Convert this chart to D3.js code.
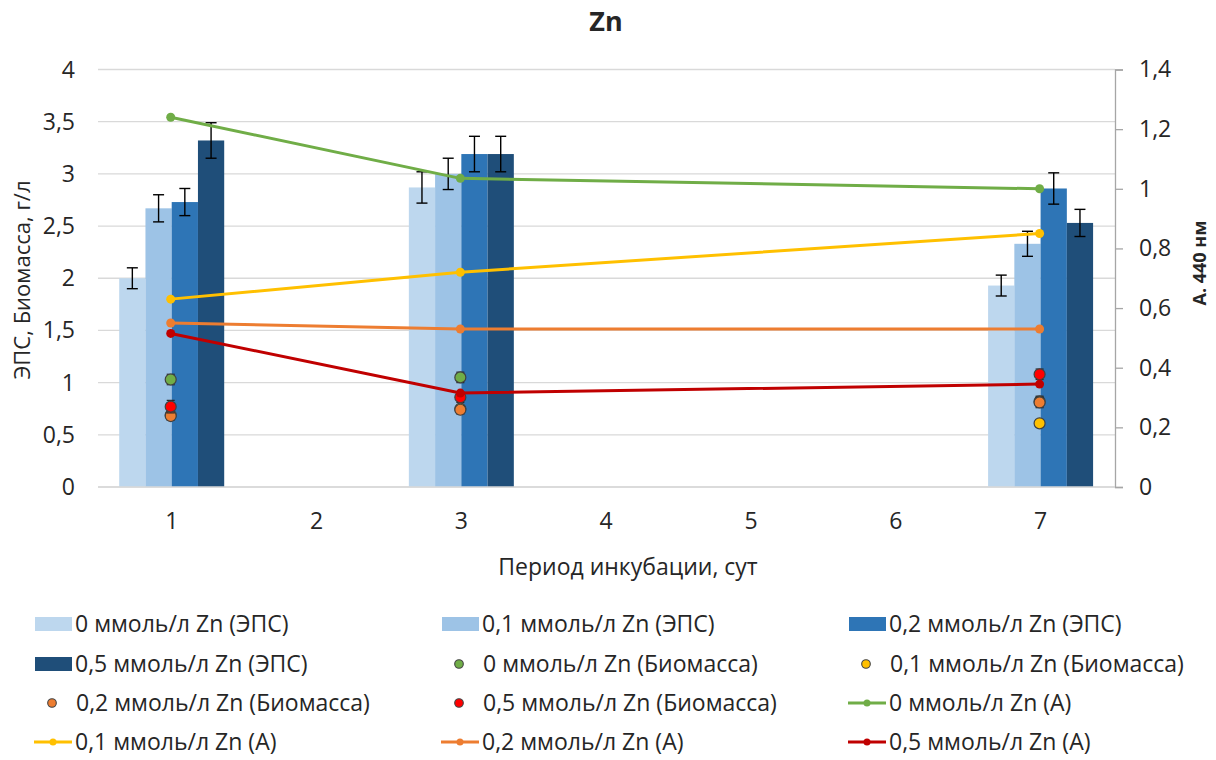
<!DOCTYPE html>
<html><head><meta charset="utf-8">
<script src="https://cdn.jsdelivr.net/npm/d3@7"></script>
<style>
html,body{margin:0;padding:0;background:#fff;}
text{font-family:"Open Sans","Noto Sans",sans-serif;fill:#262626;}
</style></head>
<body><svg id="c" width="1216" height="760"></svg>
<script>
// ---- data ----
const days = ["1","2","3","4","5","6","7"];
const sampleDays = ["1","3","7"];
const concLabels = ["0","0,1","0,2","0,5"];
// EPS bars, g/l (left axis)
const eps0 = [2.00, 2.87, 1.93];
const eps01 = [2.67, 3.00, 2.33];
const eps02 = [2.73, 3.19, 2.86];
const eps05 = [3.32, 3.19, 2.53];
const epsErr0 = [0.10, 0.15, 0.10];
const epsErr01 = [0.13, 0.15, 0.12];
const epsErr02 = [0.13, 0.17, 0.15];
const epsErr05 = [0.17, 0.17, 0.13];
// Biomass, g/l (left axis)
const bio0 = [1.03, 1.05, 0.82];
const bio01 = [0.69, 0.75, 0.61];
const bio02 = [0.68, 0.74, 0.81];
const bio05 = [0.77, 0.86, 1.08];
const bioErr0 = [0.05, 0.05, 0.05];
const bioErr01 = [0.03, 0.03, 0.03];
const bioErr02 = [0.04, 0.04, 0.05];
const bioErr05 = [0.06, 0.05, 0.05];
// Absorbance 440 nm (right axis)
const a0 = [1.24, 1.035, 1.00];
const a01 = [0.63, 0.72, 0.85];
const a02 = [0.55, 0.53, 0.53];
const a05 = [0.515, 0.315, 0.345];
const leftTicks = [0,0.5,1,1.5,2,2.5,3,3.5,4];
const rightTicks = [0,0.2,0.4,0.6,0.8,1,1.2,1.4];

const barColors = ["#BDD7EE","#9DC3E6","#2E75B6","#1F4E79"];
const bioColors = ["#70AD47","#FFC000","#ED7D31","#FF0000"];
const lineColors = ["#70AD47","#FFC000","#ED7D31","#C00000"];

const epsSeries = [eps0,eps01,eps02,eps05];
const epsErrSeries = [epsErr0,epsErr01,epsErr02,epsErr05];
const bioSeries = [bio0,bio01,bio02,bio05];
const bioErrSeries = [bioErr0,bioErr01,bioErr02,bioErr05];
const aSeries = [a0,a01,a02,a05];

const fmt = v => String(v).replace(".", ",");
const FS = "23px";

const svg = d3.select("#c");
const L = 99.3, R = 1113, T = 69.5, B = 487;
const x = d3.scaleBand().domain(days).range([L,R]).padding(0);
const xc = d => x(d) + x.bandwidth()/2;
const groupW = x.bandwidth()*0.725;
const xi = d3.scaleBand().domain(d3.range(4)).range([-groupW/2, groupW/2]).padding(0);
const yL = d3.scaleLinear().domain([0,4]).range([B,T]);
const yR = d3.scaleLinear().domain([0,1.4]).range([B,T]);

// gridlines
svg.append("g").selectAll("line").data(leftTicks).join("line")
  .attr("x1",98).attr("x2",R+2).attr("y1",d=>yL(d)).attr("y2",d=>yL(d))
  .attr("stroke","#D9D9D9").attr("stroke-width",1.3);

// left axis labels
svg.append("g").selectAll("text").data(leftTicks).join("text")
  .attr("x",75).attr("y",d=>yL(d)).attr("dy","0.35em").attr("text-anchor","end")
  .style("font-size",FS).text(d=>fmt(d));

// right axis
const rAxis = d3.axisRight(yR).tickValues(rightTicks).tickSize(8).tickFormat(fmt);
const rg = svg.append("g").attr("transform",`translate(${R+2},0)`).call(rAxis);
rg.select(".domain").attr("stroke","#A6A6A6").attr("stroke-width",1.3);
rg.selectAll(".tick line").attr("stroke","#A6A6A6").attr("stroke-width",1.3);
rg.selectAll(".tick text").attr("x",24).style("font-size",FS).attr("fill","#262626")
  .style("font-family","'Open Sans'");

// x axis labels
svg.append("g").selectAll("text").data(days).join("text")
  .attr("x",d=>xc(d)).attr("y",521).attr("dy","0.35em").attr("text-anchor","middle")
  .style("font-size",FS).text(d=>d);

// bars
const barG = svg.append("g");
epsSeries.forEach((s,si)=>{
  s.forEach((v,i)=>{
    const d = sampleDays[i];
    barG.append("rect")
      .attr("x", xc(d)+xi(si)).attr("width", xi.bandwidth())
      .attr("y", yL(v)).attr("height", yL(0)-yL(v))
      .attr("fill", barColors[si]);
  });
});
// bar error bars
const errG = svg.append("g").attr("stroke","#000").attr("stroke-width",1.4);
function errBar(cx, v, e, y, w){
  errG.append("line").attr("x1",cx).attr("x2",cx).attr("y1",y(v-e)).attr("y2",y(v+e));
  errG.append("line").attr("x1",cx-w).attr("x2",cx+w).attr("y1",y(v-e)).attr("y2",y(v-e));
  errG.append("line").attr("x1",cx-w).attr("x2",cx+w).attr("y1",y(v+e)).attr("y2",y(v+e));
}
epsSeries.forEach((s,si)=>{
  s.forEach((v,i)=>{
    const d = sampleDays[i];
    errBar(xc(d)+xi(si)+xi.bandwidth()/2, v, epsErrSeries[si][i], yL, 5.5);
  });
});
// x baseline
svg.append("line").attr("x1",98).attr("x2",R+2).attr("y1",B).attr("y2",B)
  .attr("stroke","#D9D9D9").attr("stroke-width",1.3);

// biomass markers with error bars
const bioG = svg.append("g");
bioSeries.forEach((s,si)=>{
  s.forEach((v,i)=>{
    const cx = xc(sampleDays[i]) - 1;
    const e = bioErrSeries[si][i];
    const g = bioG.append("g").attr("stroke","#262626").attr("stroke-width",1.2);
    g.append("line").attr("x1",cx).attr("x2",cx).attr("y1",yL(v-e)).attr("y2",yL(v+e));
    g.append("line").attr("x1",cx-4).attr("x2",cx+4).attr("y1",yL(v-e)).attr("y2",yL(v-e));
    g.append("line").attr("x1",cx-4).attr("x2",cx+4).attr("y1",yL(v+e)).attr("y2",yL(v+e));
    bioG.append("circle").attr("cx",cx).attr("cy",yL(v)).attr("r",5.5)
      .attr("fill",bioColors[si]).attr("stroke","#404040").attr("stroke-width",1.2);
  });
});

// absorbance lines
const line = d3.line().x(d=>xc(d[0])-1).y(d=>yR(d[1]));
const lineG = svg.append("g");
aSeries.forEach((s,si)=>{
  const pts = s.map((v,i)=>[sampleDays[i],v]);
  lineG.append("path").datum(pts).attr("d",line).attr("fill","none")
    .attr("stroke",lineColors[si]).attr("stroke-width",3).attr("stroke-linejoin","round");
  lineG.selectAll(null).data(pts).join("circle")
    .attr("cx",d=>xc(d[0])-1).attr("cy",d=>yR(d[1])).attr("r",4.5).attr("fill",lineColors[si]);
});

// titles
svg.append("text").attr("x",606).attr("y",22).attr("dy","0.35em").attr("text-anchor","middle")
  .style("font-size","27px").style("font-weight","bold").attr("fill","#000").text("Zn");
svg.append("text").attr("transform","translate(22,280) rotate(-90)").attr("dy","0.35em")
  .attr("text-anchor","middle").style("font-size","22px").text("ЭПС, Биомасса, г/л");
svg.append("text").attr("transform","translate(1200,263) rotate(-90)").attr("dy","0.35em")
  .attr("text-anchor","middle").style("font-size","18px").style("font-weight","bold").text("А. 440 нм");
svg.append("text").attr("x",628).attr("y",567).attr("dy","0.35em").attr("text-anchor","middle")
  .style("font-size",FS).text("Период инкубации, сут");

// legend
const legendItems = [];
concLabels.forEach((c,i)=>legendItems.push({type:"bar",color:barColors[i],label:`${c} ммоль/л Zn (ЭПС)`}));
concLabels.forEach((c,i)=>legendItems.push({type:"dot",color:bioColors[i],label:`${c} ммоль/л Zn (Биомасса)`}));
concLabels.forEach((c,i)=>legendItems.push({type:"line",color:lineColors[i],label:`${c} ммоль/л Zn (А)`}));
const colX = [34,441,848];
const rowY = [624,664,703,742];
const lg = svg.append("g");
legendItems.forEach((it,k)=>{
  const x0 = colX[k%3], y0 = rowY[Math.floor(k/3)];
  const g = lg.append("g");
  if(it.type==="bar"){
    g.append("rect").attr("x",x0+1).attr("y",y0-7).attr("width",37).attr("height",14).attr("fill",it.color);
  } else if(it.type==="dot"){
    g.append("circle").attr("cx",x0+18).attr("cy",y0).attr("r",4.3).attr("fill",it.color)
      .attr("stroke","#404040").attr("stroke-width",1.1);
  } else {
    g.append("line").attr("x1",x0).attr("x2",x0+38).attr("y1",y0).attr("y2",y0)
      .attr("stroke",it.color).attr("stroke-width",3);
    g.append("circle").attr("cx",x0+19).attr("cy",y0).attr("r",3.5).attr("fill",it.color);
  }
  g.append("text").attr("x",x0+41+(it.type==="dot"?1:0)).attr("y",y0).attr("dy","0.35em")
    .style("font-size",FS).text(it.label);
});
</script></body></html>
